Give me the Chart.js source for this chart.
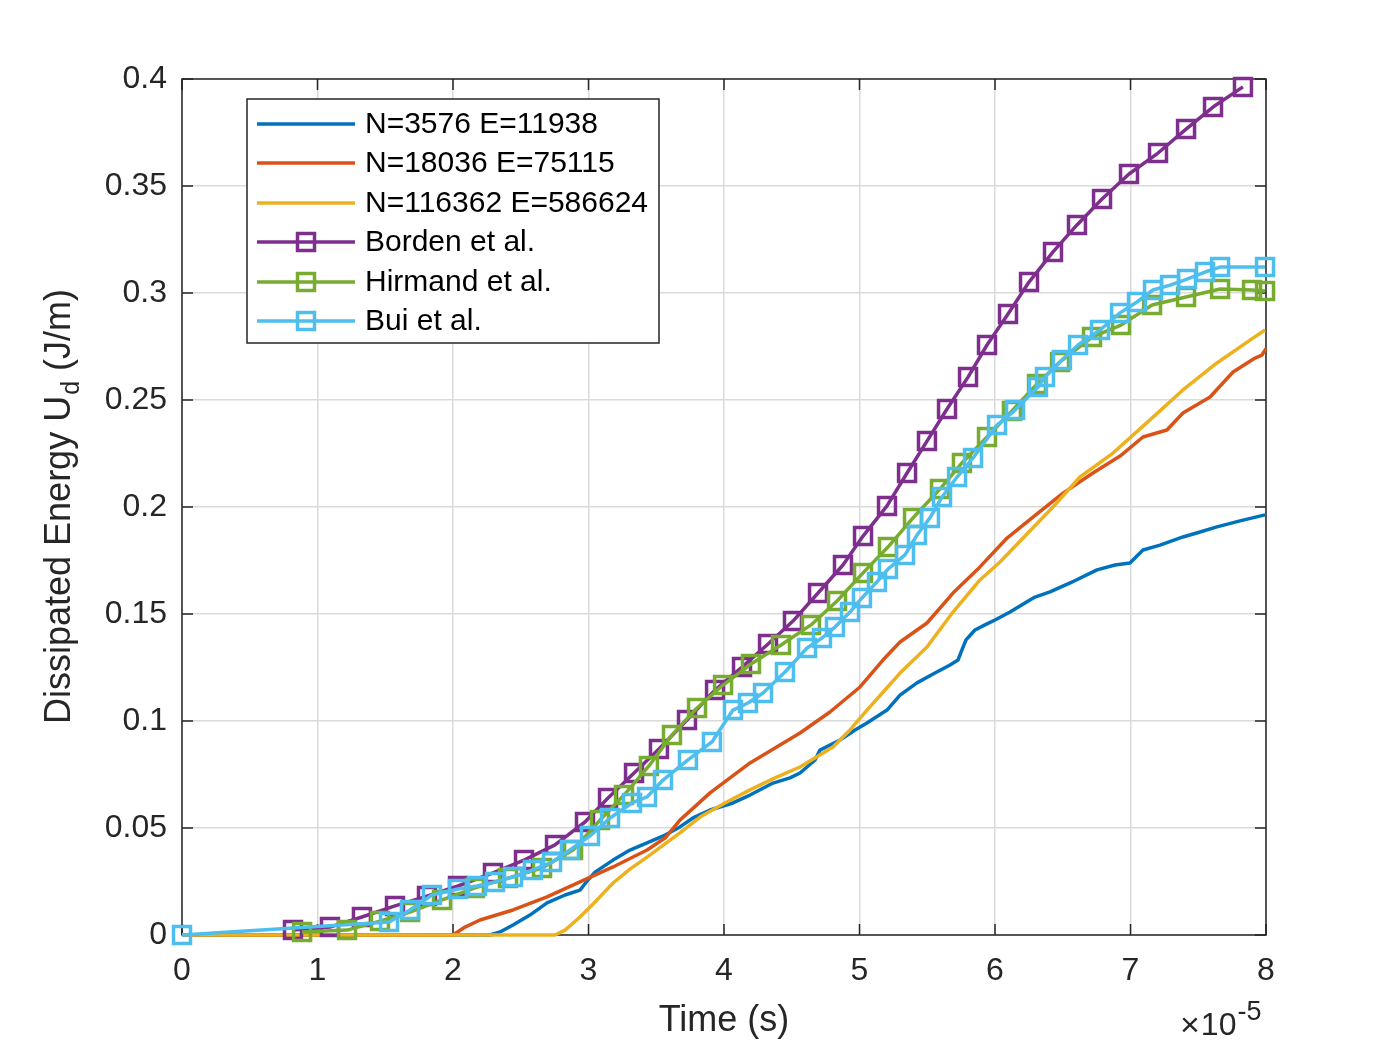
<!DOCTYPE html>
<html>
<head>
<meta charset="utf-8">
<script src="https://cdn.jsdelivr.net/npm/chart.js@4.4.1/dist/chart.umd.min.js"></script>
<style>
html,body{margin:0;padding:0;background:#fff;}
#wrap{width:1400px;height:1050px;}
</style>
</head>
<body>
<div id="wrap"><canvas id="c" width="1400" height="1050"></canvas></div>
<script>
// ---- data (time in units of 1e-5 s, energy in J/m) ----
const xTickLabels = ['0','1','2','3','4','5','6','7','8'];
const yTickLabels = ['0','0.05','0.1','0.15','0.2','0.25','0.3','0.35','0.4'];

const seriesNames = ['N=3576 E=11938','N=18036 E=75115','N=116362 E=586624','Borden et al.','Hirmand et al.','Bui et al.'];
const seriesColors = ['#0072BD','#D95319','#EDB120','#7E2F8E','#77AC30','#4DBEEE'];

const mesh1X = [0,2.273,2.347,2.443,2.568,2.694,2.827,2.937,2.996,3.048,3.181,3.306,3.432,3.565,3.675,3.771,3.897,4.066,4.192,4.362,4.487,4.561,4.672,4.708,4.856,4.967,5.055,5.203,5.299,5.424,5.557,5.668,5.727,5.756,5.786,5.852,5.926,6.000,6.111,6.221,6.295,6.406,6.554,6.753,6.886,6.996,7.092,7.218,7.387,7.513,7.638,7.808,7.993];
const mesh1Y = [0,0,0.0014,0.0047,0.0093,0.0150,0.0187,0.0210,0.0257,0.0294,0.0350,0.0397,0.0430,0.0467,0.0505,0.0547,0.0584,0.0617,0.0654,0.0710,0.0734,0.0757,0.0818,0.0864,0.0911,0.0958,0.0991,0.1051,0.1121,0.1178,0.1224,0.1262,0.1285,0.1332,0.1379,0.1425,0.1449,0.1472,0.1509,0.1551,0.1579,0.1603,0.1645,0.1706,0.1729,0.1738,0.1799,0.1822,0.1860,0.1883,0.1907,0.1935,0.1963];

const mesh2X = [0,2.000,2.089,2.199,2.443,2.694,2.937,3.181,3.432,3.565,3.675,3.897,4.192,4.561,4.782,5.004,5.173,5.299,5.498,5.690,5.889,6.089,6.280,6.502,6.723,6.923,7.092,7.269,7.387,7.587,7.757,7.919,7.970,8.000];
const mesh2Y = [0,0,0.0037,0.0070,0.0117,0.0178,0.0248,0.0318,0.0397,0.0453,0.0537,0.0664,0.0804,0.0944,0.1042,0.1159,0.1285,0.1369,0.1458,0.1598,0.1720,0.1855,0.1953,0.2065,0.2159,0.2238,0.2327,0.2360,0.2439,0.2514,0.2631,0.2696,0.2710,0.2740];

const mesh3X = [0,2.753,2.827,2.937,3.063,3.181,3.306,3.432,3.675,3.823,4.007,4.192,4.376,4.561,4.804,4.930,5.055,5.188,5.299,5.498,5.690,5.889,6.037,6.207,6.428,6.627,6.871,7.144,7.387,7.638,7.882,7.993];
const mesh3Y = [0,0,0.0023,0.0084,0.0164,0.0243,0.0308,0.0364,0.0477,0.0551,0.0617,0.0678,0.0734,0.0785,0.0879,0.0958,0.1051,0.1145,0.1224,0.1346,0.1509,0.1659,0.1743,0.1855,0.2000,0.2140,0.2252,0.2407,0.2547,0.2673,0.2780,0.2827];

const bordenX = [0.819,1.092,1.328,1.572,1.808,2.037,2.295,2.524,2.753,2.974,3.144,3.336,3.520,3.727,3.934,4.133,4.325,4.509,4.694,4.878,5.026,5.203,5.351,5.498,5.646,5.801,5.941,6.096,6.251,6.428,6.605,6.790,6.989,7.203,7.410,7.609,7.830];
const bordenY = [0.0023,0.0037,0.0084,0.0136,0.0182,0.0229,0.0290,0.0350,0.0421,0.0528,0.0640,0.0757,0.0869,0.1005,0.1145,0.1252,0.1360,0.1467,0.1598,0.1729,0.1864,0.2005,0.2159,0.2308,0.2458,0.2607,0.2757,0.2902,0.3051,0.3192,0.3318,0.3439,0.3556,0.3654,0.3766,0.3869,0.3963];

const hirmandX = [0.886,1.218,1.461,1.683,1.919,2.162,2.406,2.657,2.886,3.085,3.262,3.446,3.616,3.801,3.993,4.199,4.421,4.642,4.834,5.026,5.210,5.395,5.594,5.756,5.941,6.125,6.310,6.480,6.716,6.930,7.159,7.410,7.661,7.897,7.993];
const hirmandY = [0.0014,0.0023,0.0065,0.0107,0.0164,0.0220,0.0266,0.0313,0.0397,0.0537,0.0654,0.0790,0.0935,0.1061,0.1168,0.1266,0.1355,0.1449,0.1561,0.1692,0.1813,0.1949,0.2084,0.2206,0.2327,0.2449,0.2575,0.2678,0.2794,0.2850,0.2944,0.2981,0.3019,0.3014,0.3009];

const buiX = [0,1.528,1.683,1.845,2.037,2.177,2.310,2.443,2.590,2.731,2.863,3.011,3.159,3.321,3.432,3.550,3.734,3.911,4.066,4.177,4.288,4.450,4.613,4.723,4.819,4.930,5.018,5.129,5.210,5.336,5.424,5.520,5.609,5.720,5.838,6.015,6.148,6.317,6.369,6.494,6.613,6.775,6.923,7.048,7.166,7.292,7.417,7.550,7.661,7.993];
const buiY = [0,0.0061,0.0117,0.0187,0.0215,0.0229,0.0248,0.0271,0.0304,0.0341,0.0397,0.0463,0.0547,0.0617,0.0645,0.0724,0.0818,0.0902,0.1051,0.1084,0.1131,0.1229,0.1341,0.1388,0.1439,0.1509,0.1575,0.1650,0.1710,0.1776,0.1869,0.1949,0.2047,0.2140,0.2229,0.2383,0.2453,0.2561,0.2607,0.2687,0.2757,0.2827,0.2907,0.2958,0.3014,0.3037,0.3065,0.3098,0.3121,0.3121];

// ---- build datasets ----
function pts(xs, ys){ return xs.map((x,i)=>({x:x, y:ys[i]})); }
const seriesData = [pts(mesh1X,mesh1Y), pts(mesh2X,mesh2Y), pts(mesh3X,mesh3Y), pts(bordenX,bordenY), pts(hirmandX,hirmandY), pts(buiX,buiY)];
const hasMarker = [false,false,false,true,true,true];

const datasets = seriesData.map((d,i)=>({
  label: seriesNames[i],
  data: d,
  borderColor: seriesColors[i],
  backgroundColor: 'rgba(0,0,0,0)',
  borderWidth: 3.5,
  borderJoinStyle: 'round',
  pointStyle: 'rect',
  pointRadius: hasMarker[i] ? 12 : 0,
  pointHoverRadius: hasMarker[i] ? 12 : 0,
  pointBorderWidth: 3.5,
  pointBorderColor: seriesColors[i],
  pointBackgroundColor: 'rgba(0,0,0,0)',
  tension: 0,
  fill: false,
  clip: false,
  order: 6 - i
}));

const AXIS_COLOR = '#262626';
const FONT = '"Liberation Sans", Arial, Helvetica, sans-serif';

const decor = {
  id: 'decor',
  beforeDatasetsDraw(chart){
    const ctx = chart.ctx, a = chart.chartArea;
    const xs = chart.scales.x, ys = chart.scales.y;
    ctx.save();
    ctx.strokeStyle = AXIS_COLOR;
    ctx.lineWidth = 1.5;
    ctx.strokeRect(a.left, a.top, a.right - a.left, a.bottom - a.top);
    const tl = 11;
    ctx.beginPath();
    xs.ticks.forEach(t=>{
      const px = xs.getPixelForValue(t.value);
      ctx.moveTo(px, a.bottom); ctx.lineTo(px, a.bottom - tl);
      ctx.moveTo(px, a.top); ctx.lineTo(px, a.top + tl);
    });
    ys.ticks.forEach(t=>{
      const py = ys.getPixelForValue(t.value);
      ctx.moveTo(a.left, py); ctx.lineTo(a.left + tl, py);
      ctx.moveTo(a.right, py); ctx.lineTo(a.right - tl, py);
    });
    ctx.stroke();
    ctx.restore();
  },
  afterDraw(chart){
    const ctx = chart.ctx, a = chart.chartArea;
    ctx.save();
    ctx.fillStyle = AXIS_COLOR;
    // x title
    ctx.font = '36px ' + FONT;
    ctx.textAlign = 'center';
    ctx.textBaseline = 'alphabetic';
    ctx.fillText('Time (s)', (a.left + a.right) / 2, 1031);
    // exponent
    ctx.textAlign = 'left';
    ctx.font = '34px ' + FONT;
    const tw = ctx.measureText('\u00D7').width;
    ctx.fillText('\u00D7', 1180, 1036);
    ctx.font = '32px ' + FONT;
    const tenW = ctx.measureText('10').width;
    ctx.fillText('10', 1180 + tw + 1, 1035);
    ctx.font = '27px ' + FONT;
    ctx.fillText('-5', 1180 + tw + 1 + tenW + 1, 1020);
    // y title (rotated, with subscript)
    ctx.translate(70, (a.top + a.bottom) / 2);
    ctx.rotate(-Math.PI / 2);
    const p1 = 'Dissipated Energy U', p2 = 'd', p3 = ' (J/m)';
    ctx.font = '36px ' + FONT;
    const w1 = ctx.measureText(p1).width, w3 = ctx.measureText(p3).width;
    ctx.font = '25px ' + FONT;
    const w2 = ctx.measureText(p2).width;
    let x0 = -(w1 + w2 + w3) / 2;
    ctx.textAlign = 'left';
    ctx.font = '36px ' + FONT;
    ctx.fillText(p1, x0, 0);
    ctx.font = '25px ' + FONT;
    ctx.fillText(p2, x0 + w1 + 1, 9);
    ctx.font = '36px ' + FONT;
    ctx.fillText(p3, x0 + w1 + w2 + 1, 0);
    ctx.restore();

    // legend
    ctx.save();
    const L = 247, T = 99, R = 659, B = 343;
    ctx.fillStyle = '#ffffff';
    ctx.fillRect(L, T, R - L, B - T);
    ctx.strokeStyle = AXIS_COLOR;
    ctx.lineWidth = 1.5;
    ctx.strokeRect(L, T, R - L, B - T);
    const rows = [124, 163, 203, 242, 282, 321];
    chart.data.datasets.forEach((ds, i)=>{
      const y = rows[i];
      ctx.strokeStyle = ds.borderColor;
      ctx.lineWidth = 3.5;
      ctx.beginPath(); ctx.moveTo(257, y); ctx.lineTo(355, y); ctx.stroke();
      if (hasMarker[i]) {
        ctx.lineWidth = 3.5;
        ctx.strokeRect(306 - 8.5, y - 8.5, 17, 17);
      }
      ctx.fillStyle = '#000000';
      ctx.font = '30px ' + FONT;
      ctx.textAlign = 'left';
      ctx.textBaseline = 'middle';
      ctx.fillText(ds.label, 365, y + 1);
    });
    ctx.restore();
  }
};

new Chart(document.getElementById('c'), {
  type: 'line',
  data: { datasets: datasets },
  options: {
    responsive: false,
    animation: false,
    devicePixelRatio: 1,
    layout: { padding: { left: 0, right: 134, top: 79, bottom: 0 } },
    plugins: { legend: { display: false }, tooltip: { enabled: false } },
    events: [],
    scales: {
      x: {
        type: 'linear', min: 0, max: 8,
        afterFit: s => { s.height = 115; },
        grid: { color: '#dadada', lineWidth: 1.5, drawTicks: false },
        border: { display: false },
        ticks: {
          stepSize: 1, padding: 17, color: AXIS_COLOR, maxRotation: 0,
          font: { size: 32, family: FONT },
          callback: (v, i) => xTickLabels[i]
        }
      },
      y: {
        type: 'linear', min: 0, max: 0.4,
        afterFit: s => { s.width = 182; },
        grid: { color: '#dadada', lineWidth: 1.5, drawTicks: false },
        border: { display: false },
        ticks: {
          stepSize: 0.05, padding: 15, color: AXIS_COLOR,
          font: { size: 32, family: FONT },
          callback: (v, i) => yTickLabels[i]
        }
      }
    }
  },
  plugins: [decor]
});
</script>
</body>
</html>
